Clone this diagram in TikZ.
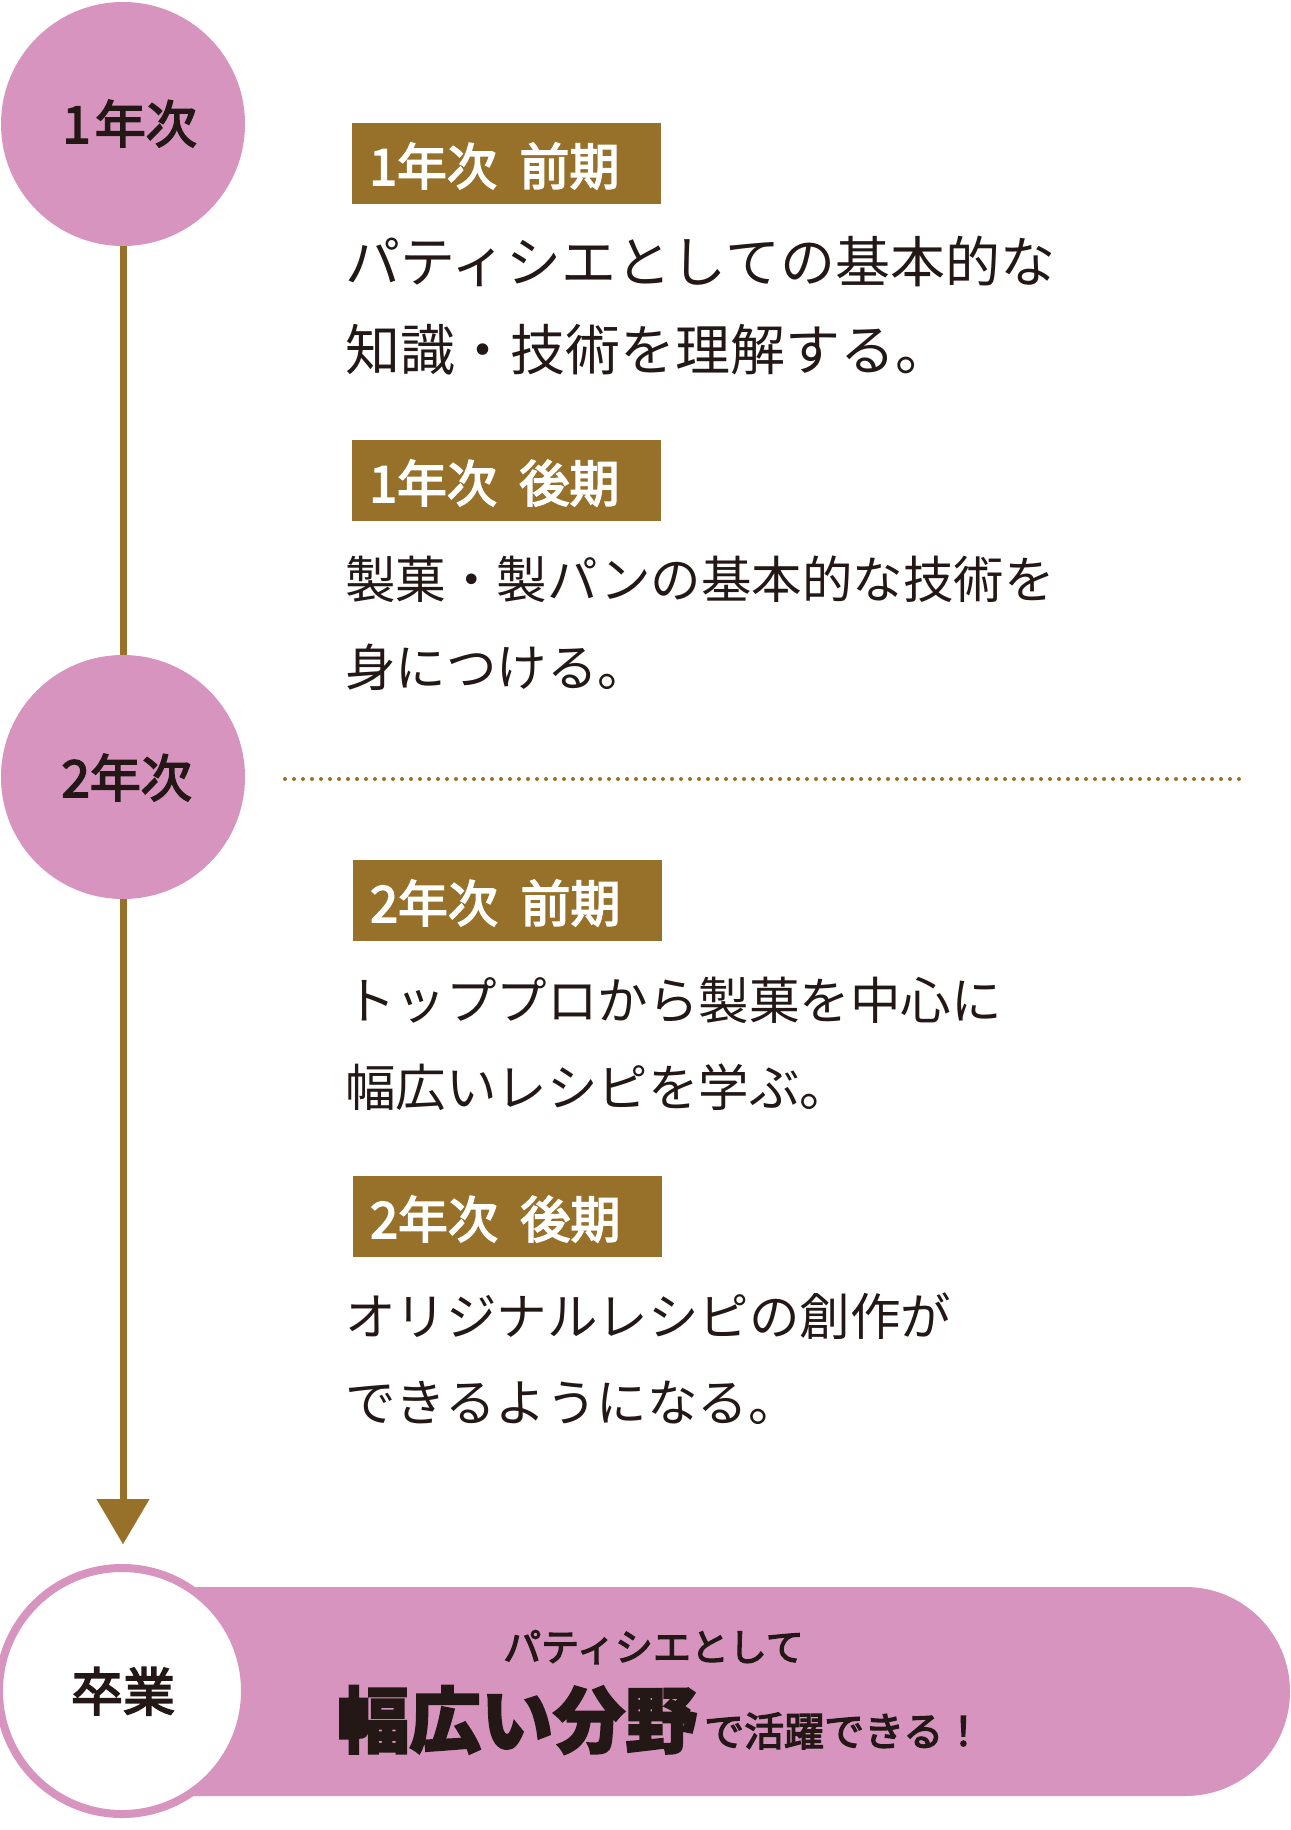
\documentclass[tikz,border=0pt]{standalone}
\usepackage{fontspec}
\newfontfamily\jp{Noto Sans CJK JP}
\newfontfamily\jpmed{Noto Sans CJK JP}[FakeBold=3.2]
\newfontfamily\jpheavy{Noto Sans CJK JP}[BoldFeatures={FakeBold=2.5}]
\usetikzlibrary{arrows.meta}
\definecolor{pinkc}{RGB}{215,148,191}
\definecolor{brownc}{RGB}{151,113,41}
\definecolor{ink}{RGB}{35,24,21}
\begin{document}
\begin{tikzpicture}[x=1pt,y=-1pt,
  yearcirc/.style={circle, fill=pinkc, minimum size=244pt, inner sep=0pt},
  yeartext/.style={inner sep=0pt, text=ink, font=\jpmed\fontsize{51}{60}\selectfont},
  tagbox/.style={fill=brownc, minimum width=309pt, minimum height=81pt, inner sep=0pt, anchor=north west},
  tagtext/.style={anchor=base west, inner sep=0pt, text=white, font=\jpmed\fontsize{50}{60}\selectfont},
  bodyA/.style={anchor=base west, inner sep=0pt, text=ink, font=\jp\fontsize{55}{66}\selectfont},
  bodyB/.style={anchor=base west, inner sep=0pt, text=ink, font=\jp\fontsize{50.5}{60}\selectfont},
  timeline/.style={draw=brownc, line width=7pt},
  dotline/.style={draw=brownc, line width=4pt, line cap=round, dash pattern=on 0pt off 9pt}
]
\useasboundingbox (0,0) rectangle (1290,1830);

% graduation band
\fill[pinkc] (123,1587) -- (1185.5,1587) arc[start angle=-90, end angle=90, radius=104.5] -- (123,1796) -- cycle;

% year circles
\node[yearcirc] (c1) at (123,124) {};
\node[yearcirc] (c2) at (123,777) {};
\node[circle, draw=pinkc, line width=8pt, fill=white, minimum size=246pt, inner sep=0pt] (c3) at (122,1691) {};

\coordinate (tip) at (123,1544);
\draw[timeline] (c1.south) -- (c2.north);
\draw[timeline, -{Triangle[length=45pt, width=53pt, line width=0.1pt]}] (c2.south) -- (tip);

\node[yeartext, anchor=base east] (y1) at (197,143) {1\hspace{0.08em}年次};
\node[yeartext, anchor=base east] (y2) at (192,797) {2年次};
\node[yeartext, anchor=base, font=\jpmed\fontsize{52}{60}\selectfont] (gr) at (123,1711) {卒業};

% dotted separator
\coordinate (d1) at (285,779);
\coordinate (d2) at (1246,779);
\draw[dotline] (d1) -- (d2);

% tags
\node[tagbox] (b1) at (352,123) {};
\node[tagtext] (b1t) at (369,185) {1年次\hspace{0.45em}前期};
\node[tagbox] (b2) at (352,440) {};
\node[tagtext] (b2t) at (369,502) {1年次\hspace{0.45em}後期};
\node[tagbox] (b3) at (353,860) {};
\node[tagtext] (b3t) at (370,922) {2年次\hspace{0.45em}前期};
\node[tagbox] (b4) at (353,1176) {};
\node[tagtext] (b4t) at (370,1238) {2年次\hspace{0.45em}後期};

% body texts
\node[bodyA] (l1) at (345,282) {パティシエとしての基本的な};
\node[bodyA] (l2) at (345,370) {知識・技術を理解する。};
\node[bodyB] (l3) at (345,598) {製菓・製パンの基本的な技術を};
\node[bodyB] (l4) at (345,686) {身につける。};
\node[bodyB] (l5) at (345,1019) {トッププロから製菓を中心に};
\node[bodyB] (l6) at (345,1106) {幅広いレシピを学ぶ。};
\node[bodyB] (l7) at (345,1335) {オリジナルレシピの創作が};
\node[bodyB] (l8) at (345,1421) {できるようになる。};

% graduation message
\node[anchor=base west, inner sep=0pt, text=ink, font=\jpmed\fontsize{38}{44}\selectfont] (g1) at (503,1661) {パティシエとして};
\node[anchor=base west, inner sep=0pt, text=ink, font=\jpheavy\bfseries\fontsize{72}{80}\selectfont] (g2) at (337,1747) {幅広い分野};
\node[anchor=base west, inner sep=0pt, text=ink, font=\jpmed\fontsize{40}{46}\selectfont] (g3) at (704,1746) {で活躍できる！};
\end{tikzpicture}
\end{document}
